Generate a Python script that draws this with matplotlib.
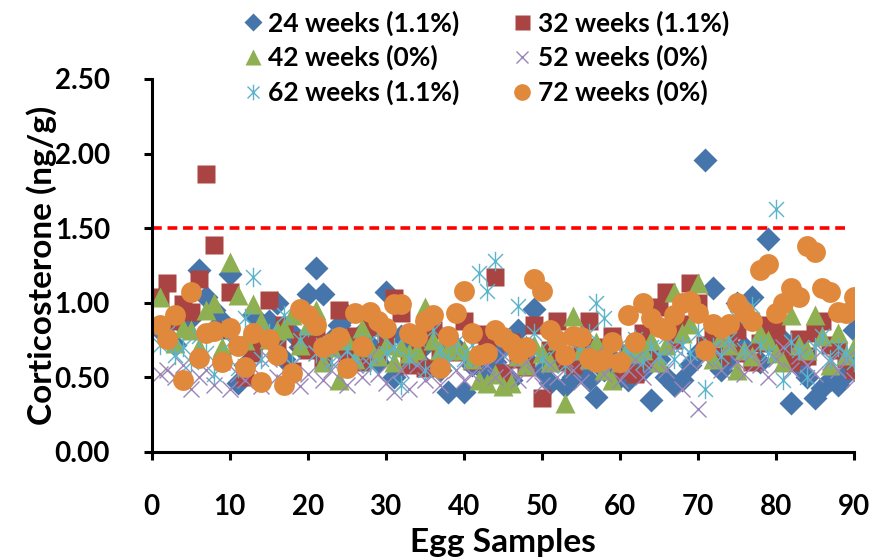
import numpy as np
import matplotlib
matplotlib.use("Agg")
import matplotlib.pyplot as plt
from matplotlib.path import Path

plt.rcParams['font.family'] = ['Lato', 'DejaVu Sans']
plt.rcParams['font.weight'] = 'bold'

samples = np.arange(1, 91)

wk24 = [0.82, 0.78, 0.72, 0.85, 0.90, 1.22, 1.04, 0.95, 0.88, 1.19,
        0.46, 0.58, 0.92, 0.76, 0.88, 1.00, 0.62, 0.80, 0.70, 1.06,
        1.23, 1.06, 0.75, 0.85, 0.92, 0.66, 0.80, 0.72, 0.60, 1.07,
        0.50, 0.78, 0.68, 0.62, 0.72, 0.82, 0.55, 0.40, 0.70, 0.40,
        0.58, 0.65, 0.52, 0.60, 0.70, 0.48, 0.82, 0.62, 0.96, 0.55,
        0.46, 0.62, 0.44, 0.50, 0.58, 0.48, 0.37, 0.55, 0.62, 0.50,
        0.48, 0.60, 0.55, 0.35, 0.62, 0.50, 0.45, 0.48, 0.58, 0.66,
        1.96, 1.10, 0.55, 0.62, 1.00, 0.70, 1.04, 0.60, 1.43, 0.72,
        0.75, 0.33, 0.58, 0.50, 0.36, 0.43, 0.48, 0.45, 0.52, 0.82]

wk32 = [1.04, 1.13, 0.88, 0.99, 0.94, 1.16, 1.86, 1.39, 0.82, 1.07,
        0.72, 0.50, 0.66, 0.78, 1.02, 0.70, 0.85, 0.54, 0.75, 0.68,
        0.80, 0.62, 0.71, 0.95, 0.66, 0.78, 0.60, 0.84, 0.65, 0.75,
        1.03, 0.93, 0.58, 0.70, 0.56, 0.82, 0.64, 0.73, 0.67, 0.88,
        0.61, 0.79, 0.70, 1.17, 0.53, 0.74, 0.62, 0.57, 0.85, 0.36,
        0.68, 0.88, 0.60, 0.58, 0.72, 0.88, 0.70, 0.64, 0.78, 0.55,
        0.66, 0.52, 0.80, 0.62, 0.97, 1.07, 0.75, 0.86, 1.13, 1.00,
        0.72, 0.78, 0.64, 0.70, 0.82, 0.66, 0.60, 0.73, 0.85, 0.82,
        0.70, 0.60, 0.76, 0.64, 0.80, 0.88, 0.72, 0.68, 0.62, 0.55]

wk42 = [1.04, 0.80, 0.73, 0.83, 0.82, 0.70, 0.95, 1.00, 0.70, 1.27,
        1.05, 0.75, 0.99, 0.88, 0.76, 0.82, 0.83, 0.92, 0.72, 0.85,
        0.95, 0.60, 0.70, 0.48, 0.75, 0.62, 0.83, 0.70, 0.64, 0.72,
        0.60, 0.70, 0.66, 0.68, 0.97, 0.75, 0.68, 0.68, 0.72, 0.68,
        0.62, 0.48, 0.46, 0.52, 0.44, 0.46, 0.64, 0.58, 0.72, 0.66,
        0.60, 0.75, 0.33, 0.91, 0.68, 0.62, 0.74, 0.55, 0.48, 0.60,
        0.70, 0.66, 0.68, 0.75, 0.60, 0.72, 1.07, 0.80, 0.86, 1.13,
        0.70, 0.62, 0.77, 0.72, 0.55, 0.68, 0.64, 0.80, 0.75, 0.66,
        0.60, 0.92, 0.72, 0.68, 0.92, 0.78, 0.58, 0.80, 0.65, 0.70]

wk52 = [0.52, 0.55, 0.50, 0.58, 0.42, 0.50, 0.55, 0.45, 0.60, 0.42,
        0.52, 0.48, 0.56, 0.44, 0.62, 0.50, 0.47, 0.58, 0.44, 0.52,
        0.66, 0.48, 0.55, 0.62, 0.45, 0.58, 0.50, 0.64, 0.52, 0.46,
        0.40, 0.55, 0.42, 0.58, 0.48, 0.52, 0.45, 0.60, 0.55, 0.48,
        0.52, 0.62, 0.58, 0.50, 0.65, 0.55, 0.48, 0.60, 0.52, 0.45,
        0.58, 0.50, 0.62, 0.55, 0.47, 0.60, 0.66, 0.52, 0.58, 0.48,
        0.55, 0.62, 0.50, 0.58, 0.64, 0.55, 0.70, 0.42, 0.60, 0.29,
        0.62, 0.68, 0.55, 0.72, 0.60, 0.52, 0.66, 0.58, 0.50, 0.62,
        0.70, 0.55, 0.64, 0.58, 0.52, 0.68, 0.60, 0.55, 0.62, 0.48]

wk62 = [0.72, 0.80, 0.65, 0.70, 0.60, 0.78, 0.66, 0.52, 0.82, 0.74,
        0.56, 0.90, 1.17, 0.62, 0.80, 0.70, 0.92, 0.58, 0.75, 0.84,
        0.66, 0.72, 0.60, 0.78, 0.68, 0.62, 0.74, 0.58, 0.80, 0.66,
        0.70, 0.45, 0.62, 0.76, 0.55, 0.82, 0.68, 0.60, 0.74, 0.62,
        0.72, 1.20, 1.08, 1.28, 0.78, 0.68, 0.98, 0.72, 0.80, 0.62,
        0.76, 0.70, 0.58, 0.74, 0.66, 0.80, 1.00, 0.90, 0.62, 0.72,
        0.68, 0.76, 0.60, 0.70, 0.64, 0.78, 0.62, 0.72, 0.66, 0.80,
        0.42, 0.70, 0.64, 0.76, 0.90, 0.68, 0.98, 0.72, 0.66, 1.63,
        0.48, 0.74, 0.68, 0.50, 0.70, 0.78, 0.62, 0.70, 0.66, 0.60]

wk72 = [0.85, 0.76, 0.92, 0.48, 1.07, 0.63, 0.80, 0.81, 0.60, 0.83,
        0.71, 0.57, 0.80, 0.47, 0.76, 0.65, 0.45, 0.53, 0.96, 0.92,
        0.85, 0.70, 0.73, 0.77, 0.56, 0.93, 0.71, 0.94, 0.88, 0.83,
        0.99, 0.99, 0.80, 0.77, 0.88, 0.92, 0.56, 0.78, 0.93, 1.08,
        0.80, 0.65, 0.66, 0.82, 0.77, 0.73, 0.66, 0.70, 1.16, 1.08,
        0.82, 0.75, 0.65, 0.78, 0.77, 0.63, 0.60, 0.62, 0.74, 0.60,
        0.92, 0.74, 1.00, 0.90, 0.84, 0.82, 0.92, 1.00, 1.01, 0.93,
        0.68, 0.86, 0.83, 0.86, 1.00, 0.94, 0.88, 1.22, 1.26, 0.93,
        1.00, 1.10, 1.04, 1.38, 1.34, 1.10, 1.07, 0.94, 0.93, 1.04]

labels = ['24 weeks (1.1%)', '32 weeks (1.1%)', '42 weeks (0%)',
          '52 weeks (0%)', '62 weeks (1.1%)', '72 weeks (0%)']
limit = 1.5

# excel style star: an x with a vertical bar through it
star = Path([(-1, -1), (1, 1), (-1, 1), (1, -1), (0, -1.3), (0, 1.3)],
            [Path.MOVETO, Path.LINETO, Path.MOVETO, Path.LINETO, Path.MOVETO, Path.LINETO])

fig = plt.figure(figsize=(8.72, 5.6), dpi=100)
ax = fig.add_axes([0.174, 0.193, 0.805, 0.666])

h1, = ax.plot(samples, wk24, 'D', color='#4675AB', ms=12, mec='none', label=labels[0])
h2, = ax.plot(samples, wk32, 's', color='#A94442', ms=13.5, mec='none', label=labels[1])
h3, = ax.plot(samples, wk42, '^', color='#8FB052', ms=14, mec='none', label=labels[2])
h4, = ax.plot(samples, wk52, 'x', color='#9A86BA', ms=11, mew=1.0, label=labels[3])
h5, = ax.plot(samples, wk62, marker=star, ls='none', color='#5AB4CB', ms=14, mew=1.0, mfc='none', label=labels[4])
h6, = ax.plot(samples, wk72, 'o', color='#E0883C', ms=15, mec='none', label=labels[5])

ax.plot([0, 89.3], [limit, limit], color='#FF0000', lw=2.6, ls=(0, (2.7, 1.6)), zorder=1)

ax.set_xlim(0, 90)
ax.set_ylim(0, 2.5)
ax.set_xticks(range(0, 91, 10))
ax.set_yticks(np.arange(0, 2.51, 0.5))
ax.yaxis.set_major_formatter(matplotlib.ticker.FormatStrFormatter('%.2f'))

for side in ['top', 'right']:
    ax.spines[side].set_visible(False)
for side in ['left', 'bottom']:
    ax.spines[side].set_linewidth(2.2)
ax.tick_params(direction='out', length=6, width=2.2, labelsize=20)
ax.tick_params(axis='x', pad=24)
ax.tick_params(axis='y', pad=24)

ax.set_xlabel('Egg Samples', fontsize=24, fontweight='bold', labelpad=6)
ax.set_ylabel('Corticosterone (ng/g)', fontsize=24, fontweight='bold', labelpad=-2)

handles = [h1, h2, h3, h4, h5, h6]
order = [0, 2, 4, 1, 3, 5]
leg = fig.legend([handles[i] for i in order], [labels[i] for i in order],
                 ncol=2, loc='upper left', bbox_to_anchor=(0.27, 1.0),
                 frameon=False, fontsize=19, markerscale=0.8, handlelength=0.5,
                 handletextpad=0.35, columnspacing=2.1, labelspacing=0.35,
                 borderaxespad=0)

fig.savefig('out.png', dpi=100)
